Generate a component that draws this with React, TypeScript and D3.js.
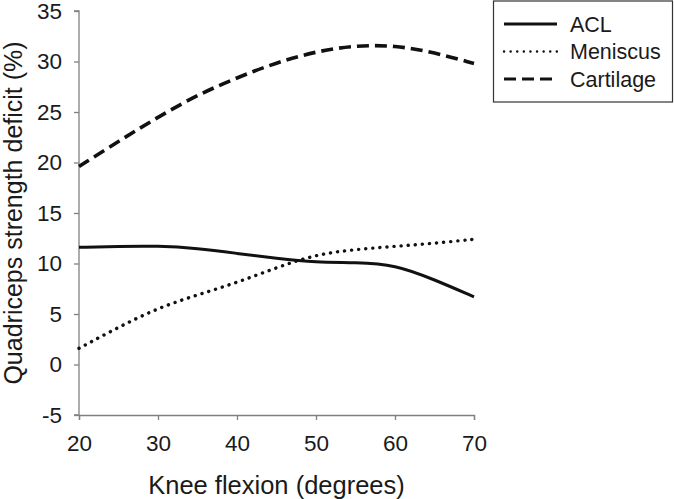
import * as d3 from 'd3';
import { useEffect, useRef } from 'react';

const degrees = [20, 25, 30, 35, 40, 45, 50, 55, 60, 65, 70];
const acl = [11.6, 11.7, 11.75, 11.5, 11.0, 10.5, 10.1, 10.1, 9.9, 8.4, 6.7];
const meniscus = [1.6, 3.7, 5.6, 6.9, 8.1, 9.6, 10.9, 11.4, 11.7, 12.0, 12.4];
const cartilage = [19.6, 22.1, 24.5, 26.7, 28.4, 29.9, 31.0, 31.6, 31.6, 30.9, 29.8];
const xTicks = [20, 30, 40, 50, 60, 70];
const yTicks = [-5, 0, 5, 10, 15, 20, 25, 30, 35];

const seriesNames = ['ACL', 'Meniscus', 'Cartilage'];
const seriesValues = [acl, meniscus, cartilage];

const font = '"Liberation Sans", Arial, sans-serif';

export default function App() {
  const ref = useRef<SVGSVGElement | null>(null);

  useEffect(() => {
    const width = 674;
    const height = 499;
    const margin = { top: 11, right: 200, bottom: 84, left: 79 };
    const svg = d3.select(ref.current);
    svg.selectAll('*').remove();
    svg.attr('width', width).attr('height', height).attr('viewBox', `0 0 ${width} ${height}`);

    const x = d3.scaleLinear().domain([20, 70]).range([margin.left, width - margin.right]);
    const y = d3.scaleLinear().domain([-5, 35]).range([height - margin.bottom, margin.top]);

    const styles = [
      { dash: null, width: 3, cap: 'butt' },
      { dash: '0.1 7', width: 3.4, cap: 'round' },
      { dash: '12 6', width: 3.6, cap: 'butt' },
    ];

    // x axis
    const xAxis = svg
      .append('g')
      .attr('transform', `translate(0,${y(-5)})`)
      .call(d3.axisBottom(x).tickValues(xTicks).tickSize(5).tickPadding(15).tickFormat((d) => String(d)));
    xAxis.select('.domain').attr('stroke', '#808080').attr('stroke-width', 1.3);
    xAxis.selectAll('.tick line').attr('stroke', '#808080').attr('stroke-width', 1.3);
    xAxis.selectAll('.tick text').attr('font-family', font).attr('font-size', 22.5).attr('fill', '#1a1a1a');

    // y axis
    const yAxis = svg
      .append('g')
      .attr('transform', `translate(${x(20)},0)`)
      .call(d3.axisLeft(y).tickValues(yTicks).tickSize(5).tickPadding(12).tickFormat((d) => String(d)));
    yAxis.selectAll('.tick line').attr('stroke', '#808080').attr('stroke-width', 1.3);
    yAxis.selectAll('.tick text').attr('font-family', font).attr('font-size', 22.5).attr('fill', '#1a1a1a');
    yAxis.select('.domain').attr('stroke', '#808080').attr('stroke-width', 1.3).attr('d', `M-5,${y(35)}H0V${y(-5)}H-5`);

    // titles
    svg
      .append('text')
      .attr('x', (x(20) + x(70)) / 2)
      .attr('y', 494)
      .attr('text-anchor', 'middle')
      .attr('font-family', font)
      .attr('font-size', 25.5)
      .attr('fill', '#1a1a1a')
      .text('Knee flexion (degrees)');
    svg
      .append('text')
      .attr('transform', `translate(22,${(y(-5) + y(35)) / 2}) rotate(-90)`)
      .attr('text-anchor', 'middle')
      .attr('font-family', font)
      .attr('font-size', 25)
      .attr('fill', '#1a1a1a')
      .text('Quadriceps strength deficit (%)');

    const line = d3
      .line<number>()
      .x((_, i) => x(degrees[i]))
      .y((d) => y(d))
      .curve(d3.curveBasis);

    seriesValues.forEach((vals, i) => {
      const p = svg
        .append('path')
        .datum(vals)
        .attr('d', line)
        .attr('fill', 'none')
        .attr('stroke', '#111')
        .attr('stroke-width', styles[i].width)
        .attr('stroke-linecap', styles[i].cap);
      if (styles[i].dash) p.attr('stroke-dasharray', styles[i].dash);
    });

    // legend
    const lg = svg.append('g');
    lg.append('rect')
      .attr('x', 493.5)
      .attr('y', 1)
      .attr('width', 179)
      .attr('height', 101)
      .attr('fill', '#fff')
      .attr('stroke', '#333')
      .attr('stroke-width', 1.2);
    seriesNames.forEach((name, i) => {
      const ly = 24 + i * 27.5;
      const l = lg
        .append('line')
        .attr('x1', 504)
        .attr('x2', 557)
        .attr('y1', ly)
        .attr('y2', ly)
        .attr('stroke', '#111')
        .attr('stroke-width', i === 1 ? 2.4 : 3)
        .attr('stroke-linecap', styles[i].cap);
      if (i === 1) l.attr('stroke-dasharray', '0.1 6.5');
      if (i === 2) l.attr('stroke-dasharray', '12 6');
      lg.append('text')
        .attr('x', 570)
        .attr('y', ly)
        .attr('dy', '0.35em')
        .attr('font-family', font)
        .attr('font-size', 21.5)
        .attr('fill', '#1a1a1a')
        .text(name);
    });
  }, []);

  return <svg ref={ref} style={{ position: 'absolute', left: 0, top: 0, background: '#fff' }} />;
}
